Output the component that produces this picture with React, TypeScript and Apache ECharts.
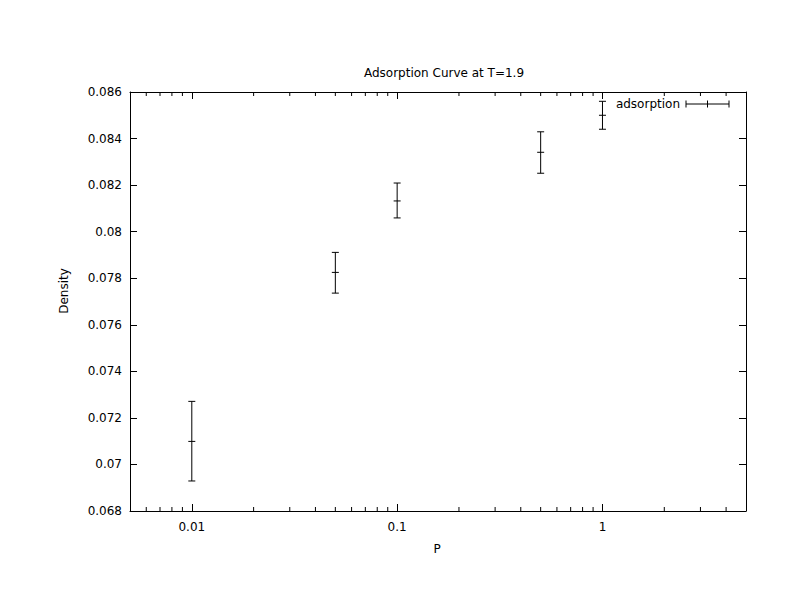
import React, { useEffect, useRef } from "react";
import * as echarts from "echarts";

// Data
const pressures = [0.01, 0.05, 0.1, 0.5, 1];
const densities = [0.07099, 0.07825, 0.08132, 0.08341, 0.0850];
const lowErr = [0.06929, 0.07736, 0.08059, 0.08251, 0.0844];
const highErr = [0.07271, 0.07911, 0.08209, 0.08429, 0.0856];

const xMinorTicks = [
  0.006, 0.007, 0.008, 0.009,
  0.02, 0.03, 0.04, 0.05, 0.06, 0.07, 0.08, 0.09,
  0.2, 0.3, 0.4, 0.5, 0.6, 0.7, 0.8, 0.9,
  2, 3, 4,
];

const X_MIN = 0.005;
const X_MAX = 5;
const Y_MIN = 0.068;
const Y_MAX = 0.086;
const Y_STEP = 0.002;

const FONT = "DejaVu Sans";

const isPow10 = (v: number) => {
  const l = Math.log10(v);
  return Math.abs(l - Math.round(l)) < 1e-6;
};

export default function App() {
  const ref = useRef<HTMLDivElement>(null);

  useEffect(() => {
    if (!ref.current) return;
    const chart = echarts.init(ref.current, null, { renderer: "svg" });

    const errData = pressures.map((p, i) => [p, densities[i], lowErr[i], highErr[i]]);
    const tickData = xMinorTicks.map((v) => [v]);

    const axisLine = { show: true, lineStyle: { color: "#000", width: 1 } };

    chart.setOption({
      animation: false,
      backgroundColor: "#fff",
      title: {
        text: "Adsorption Curve at T=1.9",
        left: 439,
        top: 62,
        textAlign: "center",
        textStyle: { fontFamily: FONT, fontSize: 12, fontWeight: "normal", color: "#000" },
      },
      grid: { left: 130, right: 46, top: 92, bottom: 101 },
      xAxis: [
        {
          type: "log",
          logBase: 10,
          min: X_MIN,
          max: X_MAX,
          position: "bottom",
          axisLine,
          axisTick: {
            show: true,
            inside: true,
            length: 7,
            lineStyle: { color: "#000" },
          },
          axisLabel: {
            color: "#000",
            fontFamily: FONT,
            fontSize: 12,
            margin: 10,
            formatter: (v: number) => (isPow10(v) ? String(parseFloat(v.toPrecision(6))) : ""),
          },
          splitLine: { show: false },
        },
        {
          type: "log",
          logBase: 10,
          min: X_MIN,
          max: X_MAX,
          position: "top",
          axisLine,
          axisTick: { show: true, inside: true, length: 7, lineStyle: { color: "#000" } },
          axisLabel: { show: false },
          splitLine: { show: false },
        },
      ],
      yAxis: [
        {
          type: "value",
          min: Y_MIN,
          max: Y_MAX,
          interval: Y_STEP,
          position: "left",
          axisLine,
          axisTick: { show: true, inside: true, length: 7, lineStyle: { color: "#000" } },
          axisLabel: { color: "#000", fontFamily: FONT, fontSize: 12, margin: 8 },
          splitLine: { show: false },
        },
        {
          type: "value",
          min: Y_MIN,
          max: Y_MAX,
          interval: Y_STEP,
          position: "right",
          axisLine,
          axisTick: { show: true, inside: true, length: 7, lineStyle: { color: "#000" } },
          axisLabel: { show: false },
          splitLine: { show: false },
        },
      ],
      graphic: [
        {
          type: "text",
          x: 437,
          y: 549,
          style: { text: "P", fontFamily: FONT, fontSize: 12, fill: "#000", align: "center", verticalAlign: "middle" },
        },
        {
          type: "text",
          x: 64,
          y: 291,
          rotation: Math.PI / 2,
          style: { text: "Density", fontFamily: FONT, fontSize: 12, fill: "#000", align: "center", verticalAlign: "middle" },
        },
        {
          type: "group",
          children: [
            {
              type: "text",
              x: 680,
              y: 104,
              style: { text: "adsorption", fontFamily: FONT, fontSize: 12, fill: "#000", align: "right", verticalAlign: "middle" },
            },
            { type: "line", shape: { x1: 686, y1: 104, x2: 729, y2: 104 }, style: { stroke: "#000", lineWidth: 1 } },
            { type: "line", shape: { x1: 686, y1: 100.5, x2: 686, y2: 107.5 }, style: { stroke: "#000", lineWidth: 1 } },
            { type: "line", shape: { x1: 729, y1: 100.5, x2: 729, y2: 107.5 }, style: { stroke: "#000", lineWidth: 1 } },
            { type: "line", shape: { x1: 707.5, y1: 100.5, x2: 707.5, y2: 107.5 }, style: { stroke: "#000", lineWidth: 1 } },
          ],
        },
      ],
      series: [
        {
          type: "custom",
          name: "minorTicks",
          xAxisIndex: 0,
          yAxisIndex: 0,
          silent: true,
          clip: false,
          data: tickData,
          encode: { x: 0 },
          renderItem: (_params: any, api: any) => {
            const v = api.value(0);
            const b = api.coord([v, Y_MIN]);
            const t = api.coord([v, Y_MAX]);
            return {
              type: "group",
              children: [
                { type: "line", shape: { x1: b[0], y1: b[1], x2: b[0], y2: b[1] - 4 }, style: { stroke: "#000", lineWidth: 1 } },
                { type: "line", shape: { x1: t[0], y1: t[1], x2: t[0], y2: t[1] + 4 }, style: { stroke: "#000", lineWidth: 1 } },
              ],
            };
          },
        },
        {
          type: "custom",
          name: "adsorption",
          xAxisIndex: 0,
          yAxisIndex: 0,
          data: errData,
          encode: { x: 0, y: [1, 2, 3] },
          renderItem: (_params: any, api: any) => {
            const x = api.value(0);
            const c = api.coord([x, api.value(1)]);
            const lo = api.coord([x, api.value(2)]);
            const hi = api.coord([x, api.value(3)]);
            const w = 3.5;
            const st = { stroke: "#000", lineWidth: 1 };
            return {
              type: "group",
              children: [
                { type: "line", shape: { x1: c[0], y1: hi[1], x2: c[0], y2: lo[1] }, style: st },
                { type: "line", shape: { x1: c[0] - w, y1: hi[1], x2: c[0] + w, y2: hi[1] }, style: st },
                { type: "line", shape: { x1: c[0] - w, y1: lo[1], x2: c[0] + w, y2: lo[1] }, style: st },
                { type: "line", shape: { x1: c[0] - w, y1: c[1], x2: c[0] + w, y2: c[1] }, style: st },
              ],
            };
          },
        },
      ],
    });

    return () => chart.dispose();
  }, []);

  return <div ref={ref} style={{ width: 792, height: 612, position: "absolute", left: 0, top: 0 }} />;
}
